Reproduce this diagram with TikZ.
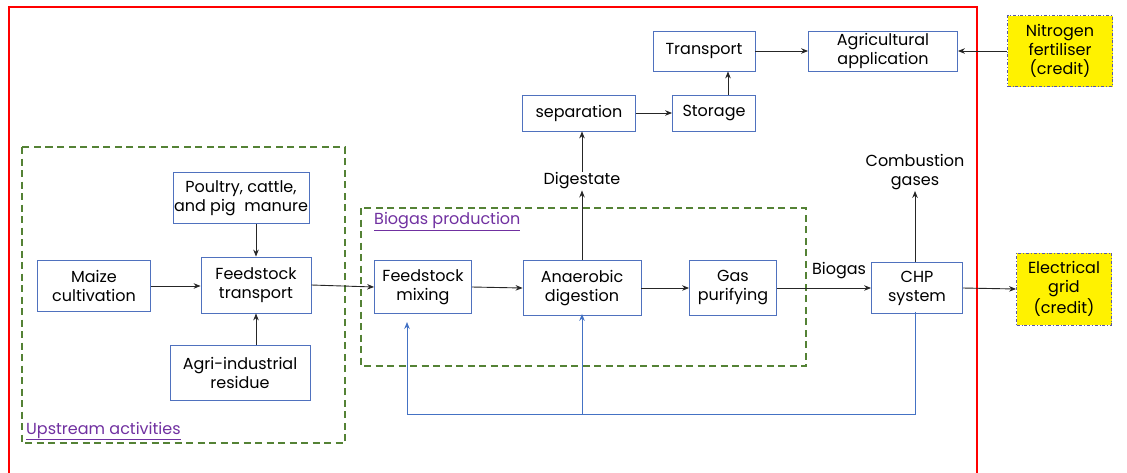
\documentclass[tikz,border=0pt]{standalone}
\usepackage{fontspec}
\setmainfont{Poppins}
\usetikzlibrary{arrows.meta}

\definecolor{boxblue}{HTML}{4F71BE}
\definecolor{loopblue}{HTML}{4472C4}
\definecolor{zonegreen}{HTML}{548235}
\definecolor{zonepurple}{HTML}{7030A0}

\begin{document}
\begin{tikzpicture}[x=1pt, y=-1pt, >={Stealth[length=7pt,width=5.5pt]},
    stage/.style={draw=boxblue, line width=0.8pt, align=center, inner sep=1pt, font=\fontsize{16}{19}\selectfont},
    credit/.style={stage, fill=yellow, draw=gray!70!blue, dash dot},
    zone/.style={draw=zonegreen, line width=1.2pt, dash pattern=on 7pt off 4.5pt},
    zonelabel/.style={anchor=west, text=zonepurple, inner sep=0pt, font=\fontsize{16}{19}\selectfont},
    plain/.style={align=center, inner sep=1pt, font=\fontsize{16}{19}\selectfont},
    flow/.style={->, line width=0.9pt, black!85},
    loop/.style={->, line width=0.9pt, loopblue}]

  \useasboundingbox (0,0) rectangle (1127,472);
  \clip (0,0) rectangle (1127,472);

  % system boundary and zones
  \draw[red, line width=2.2pt] (9,7) rectangle (977,490);
  \draw[zone] (22,147) rectangle (345,443);
  \draw[zone] (361,208) rectangle (806,366);
  \node[zonelabel] (up) at (26,431) {\underline{Upstream activities}};
  \node[zonelabel] (bp) at (374,222) {\underline{Biogas production}};

  % upstream
  \node[stage, minimum width=131, minimum height=51] (manure) at (241,198) {Poultry, cattle,\\and pig~ manure};
  \node[stage, minimum width=113, minimum height=51] (maize) at (94,286) {Maize\\cultivation};
  \node[stage, minimum width=110, minimum height=56] (ftrans) at (256,285) {Feedstock\\transport};
  \node[stage, minimum width=140, minimum height=55] (resid) at (240,373) {Agri-industrial\\residue};

  % biogas production
  \node[stage, minimum width=97, minimum height=53] (mix) at (423,287) {Feedstock\\mixing};
  \node[stage, minimum width=118, minimum height=55] (ad) at (582,288) {Anaerobic\\digestion};
  \node[stage, minimum width=87, minimum height=55] (purif) at (733,288) {Gas\\purifying};
  \node[stage, minimum width=91, minimum height=51] (chp) at (917,288) {CHP\\system};

  % digestate route
  \node[plain] (dig) at (582,181) {Digestate};
  \node[stage, minimum width=113, minimum height=36] (sep) at (579,113) {separation};
  \node[stage, minimum width=83, minimum height=36] (store) at (714,113) {Storage};
  \node[stage, minimum width=102, minimum height=40] (trans) at (704,51) {Transport};
  \node[stage, minimum width=149, minimum height=40] (agri) at (883,51) {Agricultural\\application};

  % outputs
  \node[plain] (comb) at (915,172) {Combustion\\gases};
  \node[credit, minimum width=105, minimum height=71] (nfert) at (1060,51) {Nitrogen\\fertiliser\\(credit)};
  \node[credit, minimum width=95, minimum height=72] (grid) at (1064,289) {Electrical\\grid\\(credit)};

  % connectors
  \draw[flow] (manure.south -| ftrans) -- (ftrans.north);
  \draw[flow] (resid.north -| ftrans) -- (ftrans.south);
  \draw[flow] (maize.east) -- (ftrans.west |- maize.east);
  \draw[flow] (ftrans.east) -- (mix.west);
  \draw[flow] (mix.east) -- (ad.west);
  \draw[flow] (ad.east) -- (purif.west);
  \draw[flow] (purif.east) -- (chp.west);
  \node[plain] (bg) at (839,271) {Biogas};
  \draw[flow] (chp.east) -- (grid.west);
  \draw[flow] (chp.north -| comb) -- (comb.south);
  \draw[flow] (ad.north) -- (dig.south);
  \draw[flow] (dig.north) -- (sep.south -| dig);
  \draw[flow] (sep.east) -- (store.west);
  \coordinate (st) at (728,95);
  \draw[flow] (st) -- (trans.south -| st);
  \draw[flow] (trans.east) -- (agri.west);
  \draw[flow] (nfert.west) -- (agri.east);

  % heat return loop
  \coordinate (lp) at (915,414);
  \coordinate (mx) at (407,322);
  \draw[loop] ([yshift=2pt]chp.south -| lp) -- (lp) -| (mx);
  \draw[loop] (ad.south |- lp) -- ([yshift=2pt]ad.south);
\end{tikzpicture}
\end{document}
